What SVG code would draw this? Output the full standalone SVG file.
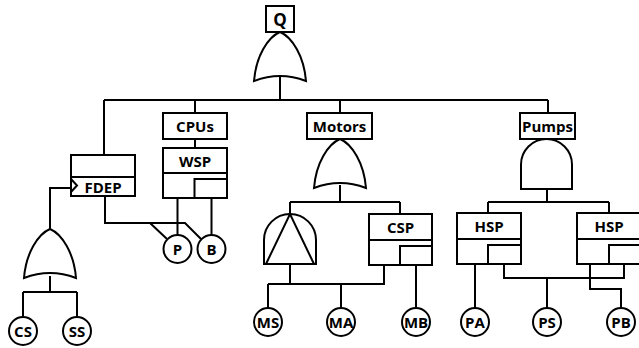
<svg xmlns="http://www.w3.org/2000/svg" width="639" height="348" viewBox="0 0 639 348">
<style>
.s{fill:#fff;stroke:#000;stroke-width:2;stroke-linejoin:miter}
.l{fill:none;stroke:#000;stroke-width:2}
.t{font-family:"Open Sans","Noto Sans",sans-serif;font-weight:bold;font-size:15px;text-anchor:middle;dominant-baseline:central;fill:#000}
</style>
<defs>
<path id="or" d="M0,0 C12,5 24,24 26,49 Q0,39 -26,49 C-24,24 -12,5 0,0 Z"/>
</defs>
<rect width="639" height="348" fill="#fff"/>
<g id="connectors" class="l">
<path d="M280,76 V100 M104,100 H548 M104,100 V155 M195,100 V113 M340,100 V113 M548,100 V113"/>
<path d="M195,139 V148"/>
<path d="M50,229 V188 H71"/>
<path d="M50,276 V292 M23,292 H77 M23,292 V317 M77,292 V317"/>
<path d="M105,196 V223 H185 L201,239 M150,223 L167,239"/>
<path d="M177.5,198 V235 M211.5,198 V235"/>
<path d="M340,185 V202 M290,202 H400 M290,202 V214 M400,202 V214"/>
<path d="M290,264 V284 M268,284 H384 V265 M268,284 V308 M341,284 V308 M416,265 V308"/>
<path d="M547,189 V202 M488,202 H609 M488,202 V213 M609,202 V213"/>
<path d="M475,264 V308 M504,264 V278 H624 V264 M547,278 V308 M590,264 V289 H621 V308"/>
</g>
<g id="Q"><rect class="s" x="266" y="6" width="28" height="26"/><text class="t" x="280" y="19" style="font-size:17px">Q</text></g>
<g id="gate-top"><use href="#or" class="s" transform="translate(280,32)"/></g>
<g id="CPUs"><rect class="s" x="163" y="113" width="64" height="26"/><text class="t" x="195" y="126">CPUs</text></g>
<g id="WSP"><rect class="s" x="163" y="148" width="64" height="50"/><path class="l" d="M163,173 H227 M194.5,198 V179 H227"/><text class="t" x="195" y="160.5">WSP</text></g>
<g id="FDEP"><rect class="s" x="71" y="155" width="64" height="41"/><path class="l" d="M71,177 H135 M71,179 L77,185.5 L71,192"/><text class="t" x="103" y="186.5">FDEP</text></g>
<g id="gate-cs"><use href="#or" class="s" transform="translate(50,229)"/></g>
<g id="Motors"><rect class="s" x="307" y="113" width="65" height="26"/><text class="t" x="339.5" y="126">Motors</text></g>
<g id="gate-motors"><use href="#or" class="s" transform="translate(340,139)"/></g>
<g id="PAND"><path class="s" d="M264,264 V240 A26,26 0 0 1 316,240 V264 Z"/><path class="l" d="M266,264 L290,214 L314,264"/></g>
<g id="CSP"><rect class="s" x="369" y="214" width="63" height="51"/><path class="l" d="M369,240 H432 M400,265 V246 H432"/><text class="t" x="400.5" y="227">CSP</text></g>
<g id="Pumps"><rect class="s" x="520" y="113" width="55" height="26"/><text class="t" x="547.5" y="126">Pumps</text></g>
<g id="gate-pumps"><path class="s" d="M521,189 V164.5 A25.5,25.5 0 0 1 572,164.5 V189 Z"/></g>
<g id="HSP1"><rect class="s" x="457" y="213" width="64" height="51"/><path class="l" d="M457,239 H521 M488,264 V245 H521"/><text class="t" x="489" y="226">HSP</text></g>
<g id="HSP2"><rect class="s" x="577" y="213" width="64" height="51"/><path class="l" d="M577,239 H641 M609,264 V245 H641"/><text class="t" x="609" y="226">HSP</text></g>
<g id="CS"><circle class="s" cx="23" cy="331" r="14"/><text class="t" x="23" y="331">CS</text></g>
<g id="SS"><circle class="s" cx="77" cy="331" r="14"/><text class="t" x="77" y="331">SS</text></g>
<g id="P"><circle class="s" cx="177.5" cy="249" r="14"/><text class="t" x="177.5" y="249">P</text></g>
<g id="B"><circle class="s" cx="211.5" cy="249" r="14"/><text class="t" x="211.5" y="249">B</text></g>
<g id="MS"><circle class="s" cx="268" cy="322" r="14"/><text class="t" x="268" y="322">MS</text></g>
<g id="MA"><circle class="s" cx="341" cy="322" r="14"/><text class="t" x="341" y="322">MA</text></g>
<g id="MB"><circle class="s" cx="416" cy="322" r="14"/><text class="t" x="416" y="322">MB</text></g>
<g id="PA"><circle class="s" cx="475" cy="322" r="14"/><text class="t" x="475" y="322">PA</text></g>
<g id="PS"><circle class="s" cx="547" cy="322" r="14"/><text class="t" x="547" y="322">PS</text></g>
<g id="PB"><circle class="s" cx="621" cy="322" r="14"/><text class="t" x="621" y="322">PB</text></g>
</svg>
